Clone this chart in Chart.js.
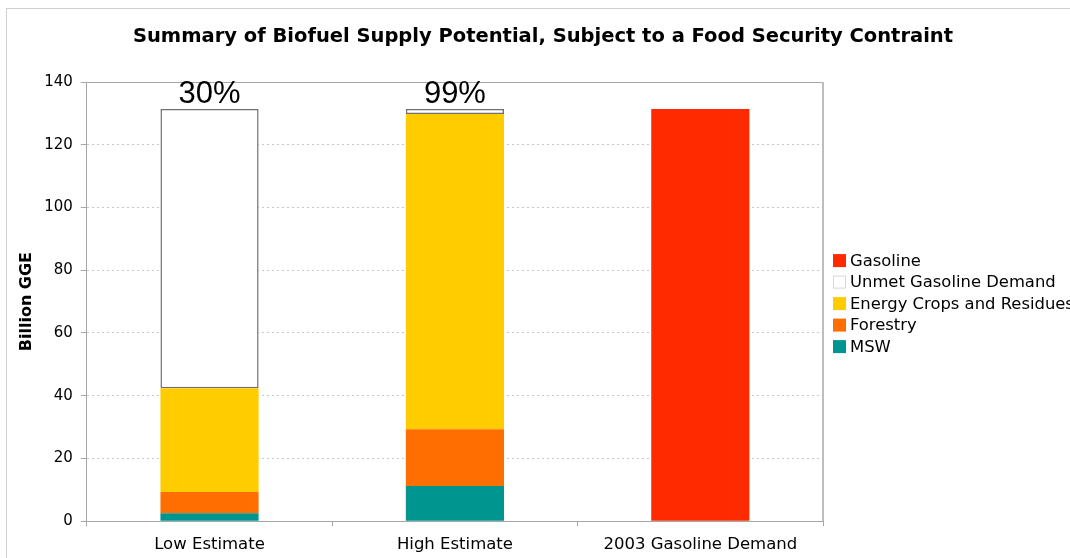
<!DOCTYPE html>
<html>
<head>
<meta charset="utf-8">
<script src="https://cdn.jsdelivr.net/npm/chart.js@4.4.0/dist/chart.umd.min.js"></script>
<style>
  html, body { margin: 0; padding: 0; background: #fff; overflow: hidden; }
  #wrap { position: relative; width: 1070px; height: 558px; }
</style>
</head>
<body>
<div id="wrap"><canvas id="biofuel-chart"></canvas></div>
<script>
  "use strict";

  // categories and series (billion GGE), stacked bottom to top
  var categories = ["Low Estimate", "High Estimate", "2003 Gasoline Demand"];
  var mswValues = [2.5, 11.2, null];
  var forestryValues = [6.8, 18.1, null];
  var energyCropValues = [33.1, 100.5, null];
  var unmetValues = [89.0, 1.6, null];
  var gasolineValues = [null, null, 131.4];
  var shareLabels = ["30%", "99%", ""];
  var yTicks = [0, 20, 40, 60, 80, 100, 120, 140];
  var chartTitle = "Summary of Biofuel Supply Potential, Subject to a Food Security Contraint";

  var gridGray = "#c8c8c8";
  var axisGray = "#a6a6a6";
  var fontFamily = '"DejaVu Sans", Verdana, sans-serif';

  // frame round the whole chart, title, and plot-area frame
  var framePlugin = {
    id: "frames",
    beforeDraw: function (chart) {
      var c = chart.ctx;
      c.save();
      c.strokeStyle = "#d0d0d0";
      c.lineWidth = 1;
      c.strokeRect(6.5, 8.5, 1200, 700);
      c.font = "bold 19.5px " + fontFamily;
      c.fillStyle = "#000";
      c.textAlign = "center";
      c.textBaseline = "middle";
      c.fillText(chartTitle, 543, 37);
      c.restore();
    },
    afterDatasetsDraw: function (chart) {
      var a = chart.chartArea, c = chart.ctx;
      c.save();
      c.strokeStyle = axisGray;
      c.lineWidth = 1;
      c.beginPath();
      c.moveTo(a.left, a.top + 0.5);
      c.lineTo(a.right, a.top + 0.5);
      c.stroke();
      c.lineWidth = 2;
      c.strokeStyle = "#bdbdbd";
      c.beginPath();
      c.moveTo(a.right, a.top);
      c.lineTo(a.right, a.bottom);
      c.stroke();
      c.restore();
    }
  };

  // percentage labels over the stacked columns
  var shareLabelPlugin = {
    id: "shareLabels",
    afterDraw: function (chart) {
      var c = chart.ctx, y = chart.scales.y, x = chart.scales.x;
      c.save();
      c.font = '31px "Liberation Sans", Arial, sans-serif';
      c.fillStyle = "#000";
      c.textAlign = "center";
      c.textBaseline = "bottom";
      categories.forEach(function (cat, i) {
        if (!shareLabels[i]) return;
        var total = 0;
        chart.data.datasets.forEach(function (ds) { total += ds.data[i] || 0; });
        c.fillText(shareLabels[i], x.getPixelForValue(i), y.getPixelForValue(total) + 1);
      });
      c.restore();
    }
  };

  // legend drawn to the right of the plot, top item = top of stack
  var sideLegendPlugin = {
    id: "sideLegend",
    afterDraw: function (chart) {
      var c = chart.ctx, a = chart.chartArea;
      var items = chart.data.datasets.slice().reverse();
      var step = 21.5, box = 13;
      var mid = (a.top + a.bottom) / 2 + 2;
      var y0 = mid - (items.length - 1) * step / 2;
      var x0 = a.right + 10;
      c.save();
      c.font = "16.4px " + fontFamily;
      c.textBaseline = "middle";
      c.textAlign = "left";
      items.forEach(function (ds, i) {
        var cy = y0 + i * step;
        c.fillStyle = ds.backgroundColor;
        c.fillRect(x0, cy - box / 2, box, box);
        if (ds.backgroundColor === "#ffffff") {
          c.strokeStyle = "#d8d8d8";
          c.lineWidth = 1;
          c.strokeRect(x0 + 0.5, cy - box / 2 + 0.5, box - 1, box - 1);
        }
        c.fillStyle = "#000";
        c.fillText(ds.label, x0 + box + 4, cy + 1);
      });
      c.restore();
    }
  };

  var ctx = document.getElementById("biofuel-chart").getContext("2d");
  new Chart(ctx, {
    type: "bar",
    data: {
      labels: categories,
      datasets: [
        { label: "MSW", data: mswValues, backgroundColor: "#00958f" },
        { label: "Forestry", data: forestryValues, backgroundColor: "#ff6e00" },
        { label: "Energy Crops and Residues", data: energyCropValues, backgroundColor: "#ffcc00" },
        {
          label: "Unmet Gasoline Demand",
          data: unmetValues,
          backgroundColor: "#ffffff",
          borderColor: "#707070",
          borderWidth: 1.5,
          borderSkipped: false
        },
        { label: "Gasoline", data: gasolineValues, backgroundColor: "#ff2a00" }
      ]
    },
    options: {
      responsive: true,
      maintainAspectRatio: false,
      animation: false,
      datasets: { bar: { barPercentage: 0.4, categoryPercentage: 1 } },
      layout: { padding: { left: 17, right: 247, top: 82, bottom: -6 } },
      plugins: {
        legend: { display: false },
        tooltip: { enabled: false },
        title: { display: false }
      },
      scales: {
        x: {
          stacked: true,
          offset: true,
          grid: { display: true, drawOnChartArea: false, drawTicks: true, tickLength: 5, color: axisGray, offset: true },
          border: { display: true, color: axisGray, width: 1 },
          ticks: {
            color: "#000",
            padding: 9,
            font: { family: fontFamily, size: 16.5 }
          }
        },
        y: {
          stacked: true,
          min: 0,
          max: 140,
          afterBuildTicks: function (scale) {
            scale.ticks = yTicks.map(function (v) { return { value: v }; });
          },
          grid: { color: gridGray, tickColor: axisGray, tickLength: 6, lineWidth: 1 },
          border: { display: true, color: axisGray, width: 1, dash: [2, 3] },
          title: {
            display: true,
            text: "Billion GGE",
            color: "#000",
            font: { family: fontFamily, size: 16, weight: "bold" },
            padding: { top: 0, bottom: 0 }
          },
          ticks: {
            color: "#000",
            padding: 8,
            font: { family: fontFamily, size: 15 }
          }
        }
      }
    },
    plugins: [framePlugin, shareLabelPlugin, sideLegendPlugin]
  });
</script>
</body>
</html>
